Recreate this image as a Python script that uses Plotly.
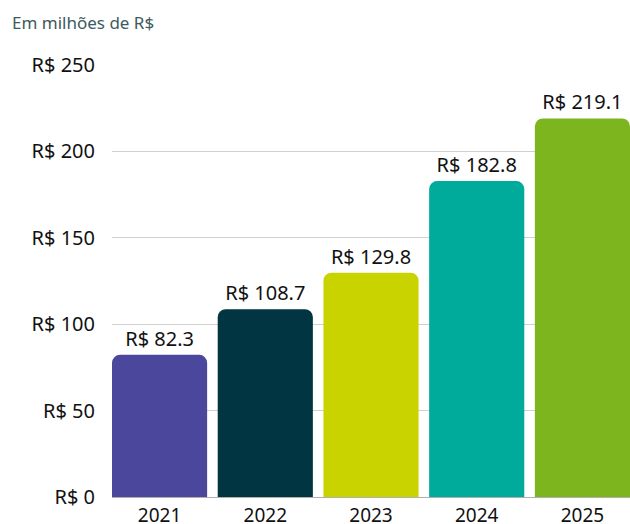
import plotly.graph_objects as go

anos = ['2021', '2022', '2023', '2024', '2025']
valores = [82.3, 108.7, 129.8, 182.8, 219.1]
cores = ['#4b479c', '#003541', '#c9d300', '#00ab9c', '#7cb51e']
rotulos = ['R$ %.1f' % v for v in valores]
ticks_y = [0, 50, 100, 150, 200, 250]
ticks_y_txt = ['R$ %d' % t for t in ticks_y]

fig = go.Figure()
fig.add_trace(go.Bar(
    x=anos,
    y=valores,
    marker=dict(color=cores, cornerradius=8, line=dict(width=0)),
    text=rotulos,
    textposition='outside',
    cliponaxis=False,
    textfont=dict(size=20, color='#111111'),
    width=0.9,
))

fig.update_layout(
    width=630, height=524,
    margin=dict(l=112, r=0, t=65, b=27),
    paper_bgcolor='white',
    plot_bgcolor='white',
    font=dict(family='Noto Sans', size=20, color='#111111'),
    showlegend=False,
    annotations=[dict(
        text='Em milhões de R$', x=(10 - 112) / 518, y=1 + (65 - 22) / 432,
        xref='paper', yref='paper',
        xanchor='left', yanchor='middle', showarrow=False,
        font=dict(size=17, color='#3d5a5c'),
    )],
    xaxis=dict(range=[-0.45, 4.45], showgrid=False, showline=False,
               ticks='outside', ticklen=1, tickcolor='rgba(0,0,0,0)',
               tickfont=dict(size=19), automargin=False),
    yaxis=dict(range=[0, 250], tickvals=ticks_y, ticktext=ticks_y_txt,
               showgrid=True, gridcolor='#d0d0d0', gridwidth=1,
               zeroline=True, zerolinecolor='#b0b0b0', zerolinewidth=1,
               ticks='outside', ticklen=12, tickcolor='rgba(0,0,0,0)',
               tickfont=dict(size=20), automargin=False),
)

# marge par défaut du navigateur (8px) -> décale tout le graphique
fig.write_html('out.html', config={'displayModeBar': False},
               post_script="document.body.style.margin='0';")
